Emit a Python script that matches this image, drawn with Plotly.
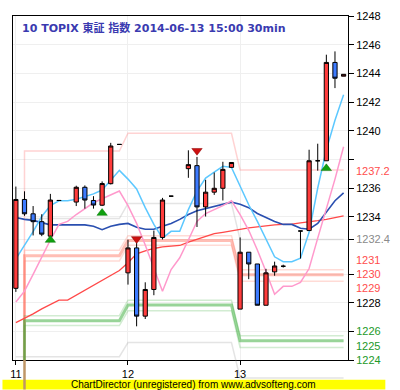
import plotly.graph_objects as go

# ---------------- data ----------------
day_labels = ["11", "12", "13"]
day_first_slot = [0, 13, 26]
day_last_slot = [12, 25, 38]
n_slots = 39

bar_slot = [0, 1, 2, 3, 4, 5, 7, 8, 9, 10, 11, 12,
            13, 14, 15, 16, 17, 18, 20, 21, 22, 23, 24, 25,
            26, 27, 28, 29, 30, 31, 33, 34, 35, 36, 37, 38]
bar_open = [1229.0, 1235.2, 1234.2, 1233.65, 1232.64, 1235.13, 1235.02, 1236.05, 1235.13, 1234.8, 1236.3, 1239.04,
            1230.08, 1231.82, 1227.06, 1228.92, 1232.55, 1235.43, 1237.35, 1237.56, 1234.68, 1235.71, 1235.98, 1237.44,
            1227.55, 1231.52, 1230.7, 1227.82, 1230.15, 1230.54, 1233.0, 1233.03, 1237.9, 1237.9, 1244.76, 1243.8]
bar_high = [1236.1, 1235.77, 1234.74, 1234.17, 1235.59, 1235.15, 1236.16, 1236.18, 1235.43, 1236.46, 1239.15, 1239.06,
            1232.39, 1232.16, 1229.42, 1233.03, 1235.31, 1235.45, 1238.63, 1238.17, 1236.57, 1237.08, 1237.83, 1237.8,
            1232.55, 1231.52, 1230.7, 1230.36, 1230.86, 1230.65, 1233.0, 1238.67, 1239.09, 1245.3, 1245.53, 1243.93]
bar_low = [1228.75, 1234.06, 1232.69, 1232.64, 1232.57, 1235.11, 1234.74, 1234.56, 1234.56, 1234.74, 1236.25, 1239.02,
           1229.26, 1226.35, 1226.86, 1228.52, 1232.41, 1235.41, 1236.71, 1233.28, 1234.01, 1235.52, 1235.13, 1237.42,
           1227.55, 1229.64, 1227.82, 1227.82, 1229.88, 1230.45, 1231.08, 1233.03, 1237.21, 1237.9, 1242.97, 1243.8]
bar_close = [1235.2, 1234.2, 1233.65, 1232.78, 1235.16, 1235.13, 1236.05, 1235.16, 1234.81, 1236.31, 1238.93, 1239.04,
             1231.82, 1227.06, 1228.92, 1232.55, 1235.16, 1235.43, 1237.63, 1234.68, 1235.71, 1235.98, 1237.3, 1237.78,
             1231.52, 1230.7, 1227.82, 1230.08, 1230.56, 1230.54, 1233.0, 1237.9, 1237.9, 1244.76, 1243.66, 1243.93]

line_cyan = [1231.06, 1231.97, 1232.95, 1234.01, 1234.77, 1235.11, 1235.11, 1235.21, 1235.38, 1235.59, 1235.86, 1236.55, 1237.23,
             1236.62, 1235.93, 1234.63, 1233.46, 1232.50, 1232.98, 1232.98, 1234.49, 1235.79, 1236.69, 1237.10, 1237.51, 1237.44,
             1236.14, 1234.83, 1233.67, 1232.43, 1231.20, 1230.86, 1230.86, 1231.10, 1232.91, 1236.00, 1238.67, 1240.73, 1242.51]
line_pink = [1228.05, 1228.8, 1229.97, 1231.2, 1232.37, 1233.46, 1233.67, 1234.15, 1234.56, 1234.97, 1235.25, 1235.52, 1235.79,
             1234.77, 1233.53, 1232.02, 1230.45, 1228.8, 1230.31, 1231.13, 1232.37, 1233.67, 1234.22, 1234.49, 1234.77, 1235.11,
             1234.15, 1233.05, 1231.68, 1230.17, 1228.59, 1229.14, 1229.14, 1229.42, 1230.38, 1232.5, 1234.49, 1236.62, 1238.88]
line_navy = [1233.94, 1233.81, 1233.74, 1233.6, 1233.43, 1233.44, 1233.44, 1233.44, 1233.43, 1233.33, 1233.09, 1233.33, 1233.46,
             1233.53, 1233.26, 1233.12, 1233.12, 1233.33, 1233.53, 1233.81, 1234.15, 1234.42, 1234.56, 1234.7, 1234.83, 1235.01,
             1234.87, 1234.63, 1234.22, 1233.94, 1233.67, 1233.46, 1233.46, 1233.19, 1233.12, 1233.53, 1234.35, 1235.11, 1235.66]
line_red = [1226.61, 1226.91, 1227.22, 1227.57, 1227.87, 1228.18, 1228.18, 1228.53, 1228.87, 1229.21, 1229.55, 1229.9, 1230.24,
            1230.79, 1231.41, 1231.61, 1231.78, 1231.89, 1231.95, 1231.99, 1232.23, 1232.43, 1232.64, 1232.81, 1232.91, 1233.02,
            1233.12, 1233.22, 1233.29, 1233.37, 1233.43, 1233.46, 1233.48, 1233.57, 1233.63, 1233.72, 1233.81, 1233.91, 1234.05]

# daily reference levels (one value per day); lead value = series start below the chart
lead_value = 0.0
lvl_pink_top = [1238.58, 1239.82, 1237.26]
lvl_salmon_hi = [1231.66, 1232.67, 1230.29]
lvl_salmon_mid = [1231.27, 1232.34, 1229.94]
lvl_salmon_lo = [1230.91, 1232.00, 1229.49]
lvl_green_hi = [1227.09, 1228.16, 1225.69]
lvl_green_mid = [1226.74, 1227.84, 1225.35]
lvl_green_lo = [1226.40, 1227.43, 1224.87]
lvl_gray_a = [1233.87, 1234.92, 1232.40]
lvl_gray_b = [1224.23, 1225.22, 1222.74]

sig_up_slot = [4, 10, 36]
sig_up_val = [1232.37, 1234.25, 1237.37]
sig_dn_slot = [14, 21]
sig_dn_val = [1232.45, 1238.6]

y_tick_vals = [1224, 1226, 1228, 1230, 1232.4, 1234, 1236, 1238, 1240, 1242, 1244, 1246, 1248]
y_tick_text = ["1224", "1226", "1228", "1230", "1232.4", "1234", "1236", "", "1240", "1242", "1244", "1246", "1248"]
y_tick_color = ["green", "green", "black", "red", "gray", "black", "black", "black", "black", "black", "black", "black", "black"]
extra_label_vals = [1237.2, 1231, 1229, 1225]
extra_label_text = ["1237.2", "1231", "1229", "1225"]
extra_label_color = ["red", "red", "red", "green"]

title_text = "10 TOPIX 東証 指数 2014-06-13 15:00 30min"
footer_text = "ChartDirector (unregistered) from www.advsofteng.com"

# ---------------- styling ----------------
COL = {"green": "#22992a", "red": "#ff4d4d", "gray": "#8a8a8a", "black": "#000000"}
FONT = "Liberation Sans, Arial, Noto Sans CJK JP, sans-serif"
X0, X1 = -0.333, 38.51
Y0, Y1 = 1224, 1248

slots = list(range(n_slots))


def expand(day_vals, lead):
    out = [lead]
    for d, v in enumerate(day_vals):
        a = max(day_first_slot[d], 1)
        out += [v] * (day_last_slot[d] - a + 1)
    return out


def xp(s):
    return (s - X0) / (X1 - X0)


def yp(v):
    return (v - Y0) / (Y1 - Y0)


fig = go.Figure()

level_specs = [
    (lvl_pink_top, "rgba(255,110,110,0.3)", 1.5, lead_value),
    (lvl_gray_a, "rgba(130,130,130,0.22)", 1.5, None),
    (lvl_gray_b, "rgba(130,130,130,0.22)", 1.5, "day"),
    (lvl_salmon_hi, "rgba(255,110,90,0.25)", 1.5, lead_value),
    (lvl_salmon_lo, "rgba(255,110,90,0.25)", 1.5, lead_value),
    (lvl_salmon_mid, "rgba(255,110,90,0.45)", 3, lead_value),
    (lvl_green_hi, "rgba(50,170,50,0.22)", 1.5, lead_value),
    (lvl_green_lo, "rgba(50,170,50,0.22)", 1.5, lead_value),
    (lvl_green_mid, "rgba(50,170,50,0.5)", 3, lead_value),
]
for vals, color, w, lead in level_specs:
    lv = vals[0] if lead == "day" else lead
    ys = expand(vals, lv)
    fig.add_trace(go.Scatter(x=slots, y=ys, mode="lines", line=dict(color=color, width=w),
                             hoverinfo="skip", connectgaps=False))

for vals, color, w in [(line_red, "#ff4848", 1.3), (line_navy, "#2a4fb0", 1.6),
                       (line_pink, "#ff99cc", 1.5), (line_cyan, "#5cc8ff", 1.5)]:
    fig.add_trace(go.Scatter(x=slots, y=vals, mode="lines", line=dict(color=color, width=w), hoverinfo="skip"))

fig.add_trace(go.Candlestick(
    x=bar_slot, open=bar_open, high=bar_high, low=bar_low, close=bar_close,
    increasing=dict(fillcolor="#ff3c3c", line=dict(color="black", width=1)),
    decreasing=dict(fillcolor="#3d7bff", line=dict(color="black", width=1)),
    whiskerwidth=0, xaxis="x2", yaxis="y2", hoverinfo="skip"))

fig.add_trace(go.Scatter(x=sig_up_slot, y=sig_up_val, mode="markers", xaxis="x2", yaxis="y2",
                         marker=dict(symbol="triangle-up", size=9, color="#10a010",
                                     line=dict(color="#0a7a0a", width=0.5)), hoverinfo="skip"))
fig.add_trace(go.Scatter(x=sig_dn_slot, y=sig_dn_val, mode="markers", xaxis="x2", yaxis="y2",
                         marker=dict(symbol="triangle-down", size=9, color="#cc1010",
                                     line=dict(color="#8a0000", width=0.5)), hoverinfo="skip"))

tick_text_html = [f'<span style="color:{COL[c]}">{t}</span>' if t else "" for t, c in zip(y_tick_text, y_tick_color)]

fig.update_layout(
    width=400, height=390,
    margin=dict(l=11, r=39, t=10, b=30),
    paper_bgcolor="white", plot_bgcolor="white",
    showlegend=False,
    font=dict(family=FONT, size=11, color="black"),
    xaxis=dict(range=[X0, X1], tickvals=day_first_slot, ticktext=day_labels,
               ticks="outside", ticklen=4, tickcolor="black", showline=True, linecolor="black",
               linewidth=1, mirror=True, showgrid=True, gridcolor="#efefef", zeroline=False,
               rangeslider=dict(visible=False), tickfont=dict(size=11, color="black")),
    yaxis=dict(side="right", range=[Y0, Y1], tickvals=y_tick_vals, ticktext=tick_text_html,
               ticks="outside", ticklen=5, tickcolor="black", showline=True, linecolor="black",
               linewidth=1, mirror=True, showgrid=True, gridcolor="#efefef", zeroline=False,
               tickfont=dict(size=11, color="black")),
    xaxis2=dict(range=[X0, X1], overlaying="x", visible=False, rangeslider=dict(visible=False)),
    yaxis2=dict(range=[Y0, Y1], overlaying="y", visible=False),
)

for v, t, c in zip(extra_label_vals, extra_label_text, extra_label_color):
    fig.add_annotation(x=1.0, xref="paper", y=v, yref="y", text=t, showarrow=False,
                       xanchor="left", yanchor="middle", xshift=6,
                       font=dict(size=11, color=COL[c], family=FONT))

fig.add_annotation(x=(18 - 11) / 350, y=(360 - 22.5) / 350, xref="paper", yref="paper",
                   text=f"<b>{title_text}</b>", showarrow=False, xanchor="left", yanchor="middle",
                   font=dict(size=11, color="#3a3ab0", family="DejaVu Sans, Noto Sans CJK JP, sans-serif"))

# footer band
fig.add_shape(type="rect", xref="paper", yref="paper", x0=-11 / 350, x1=389 / 350,
              y0=-30 / 350, y1=-20 / 350, fillcolor="#ffff00", line=dict(width=0), layer="above")
fig.add_annotation(x=(200 - 11) / 350, y=-25 / 350, xref="paper", yref="paper", text=footer_text,
                   showarrow=False, xanchor="center", yanchor="middle",
                   font=dict(size=10, color="black", family="Liberation Sans Narrow, Liberation Sans, Arial"))

# line parts that run below the plot frame (not clipped in the original)
fig.add_shape(type="line", xref="paper", yref="paper", x0=xp(1), x1=xp(1), y0=0, y1=-30 / 350,
              line=dict(color="#bf9666", width=2.5), layer="above")
gb_prev, gb_last = lvl_gray_b[1], lvl_gray_b[2]
t = (gb_prev - Y0) / (gb_prev - gb_last)
s_cross = day_last_slot[1] + t
fig.add_shape(type="path", xref="paper", yref="paper",
              path=f"M {xp(s_cross)} {yp(Y0)} L {xp(day_first_slot[2])} {yp(gb_last)} L {xp(day_last_slot[2])} {yp(gb_last)}",
              line=dict(color="rgba(130,130,130,0.22)", width=1.5), layer="above")

fig.write_html("out.html", config={"displayModeBar": False, "staticPlot": True},
               post_script="document.body.style.margin='0';document.body.style.overflow='hidden';")
